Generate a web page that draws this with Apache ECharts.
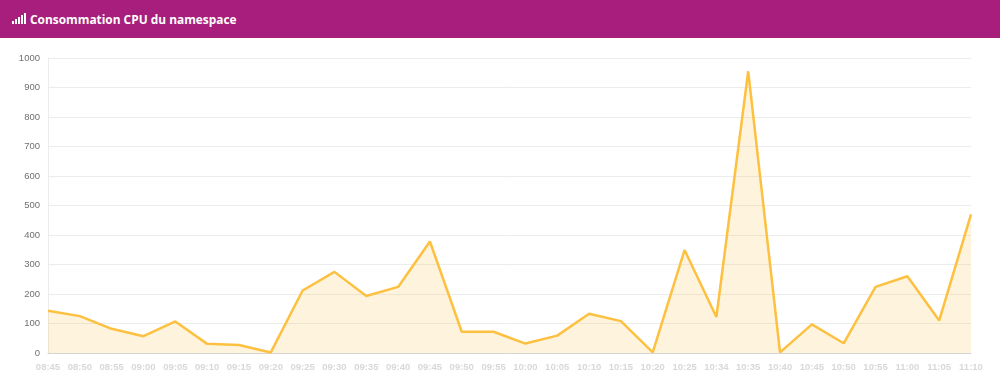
<!DOCTYPE html>
<html>
<head>
<meta charset="utf-8">
<style>
  html, body { margin: 0; padding: 0; background: #fff; }
  #header {
    height: 38px; background: #a81e7c; color: #fff; box-sizing: border-box;
    font: 700 11.9px/38px "Open Sans", sans-serif; padding-left: 30px; position: relative;
  }
  #header i { position: absolute; bottom: 14px; width: 2px; background: #fff; }
  #chart { width: 1000px; height: 354px; }
</style>
<script src="https://cdn.jsdelivr.net/npm/echarts@6/dist/echarts.min.js"></script>
</head>
<body>
<div id="header">
  <i style="left:12px;height:3px"></i><i style="left:15px;height:5px"></i><i style="left:18px;height:7px"></i><i style="left:21px;height:9px"></i><i style="left:24px;height:11px"></i>
  Consommation CPU du namespace
</div>
<div id="chart"></div>
<script>
const categories = ['08:45','08:50','08:55','09:00','09:05','09:10','09:15','09:20','09:25','09:30','09:35','09:40','09:45','09:50','09:55','10:00','10:05','10:10','10:15','10:20','10:25','10:34','10:35','10:40','10:45','10:50','10:55','11:00','11:05','11:10']
const cpuValues = [143,125,82,57,107,31,27,2,212,275,193,224,378,72,72,32,59,133,108,2,349,122,955,2,97,33,224,260,110,470]

const chart = echarts.init(document.getElementById('chart'))
chart.setOption({
  animation: false,
  textStyle: { fontFamily: 'Liberation Sans, sans-serif' },
  grid: { left: 48, right: 29, top: 20, bottom: 39 },
  xAxis: {
    type: 'category',
    boundaryGap: false,
    data: categories,
    axisLine: { lineStyle: { color: '#d4d4d4' } },
    axisTick: { show: false },
    axisLabel: { color: '#d8d8d8', fontSize: 9.5, fontWeight: 'bold', interval: 0, margin: 9, hideOverlap: false },
    splitLine: { show: false }
  },
  yAxis: {
    type: 'value',
    min: 0,
    max: 1000,
    interval: 100,
    axisLine: { show: true, lineStyle: { color: '#ececec' } },
    axisTick: { show: false },
    axisLabel: { color: '#707070', fontSize: 9.5, margin: 8, formatter: v => String(v) },
    splitLine: { lineStyle: { color: '#ececec' } }
  },
  series: [{
    type: 'line',
    data: cpuValues,
    showSymbol: false,
    lineStyle: { color: '#fdc040', width: 2.5 },
    itemStyle: { color: '#fdc040' },
    areaStyle: { color: 'rgba(250, 195, 70, 0.25)' }
  }]
})
</script>
</body>
</html>
